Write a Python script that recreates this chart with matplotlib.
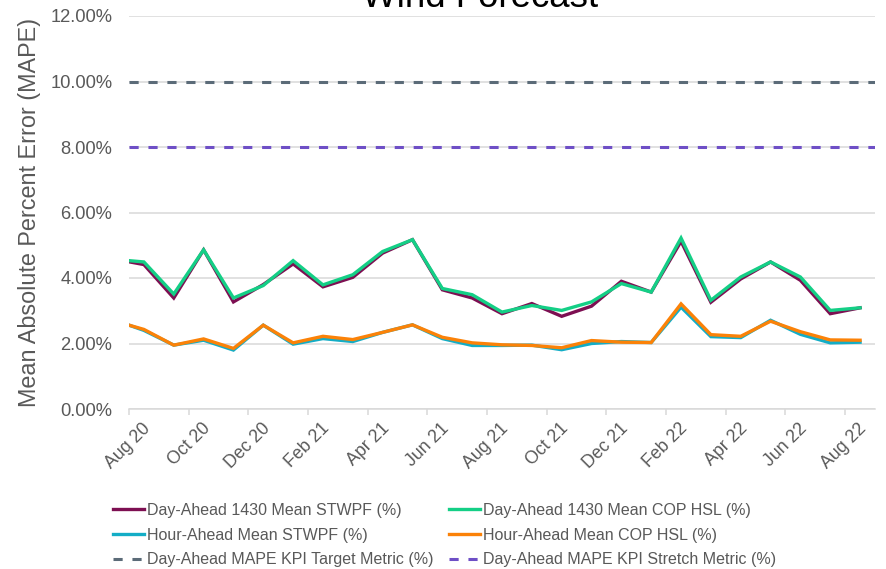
import matplotlib
matplotlib.use("Agg")
import matplotlib.pyplot as plt
import numpy as np

months = ["Jul 20", "Aug 20", "Sep 20", "Oct 20", "Nov 20", "Dec 20", "Jan 21", "Feb 21",
          "Mar 21", "Apr 21", "May 21", "Jun 21", "Jul 21", "Aug 21", "Sep 21", "Oct 21",
          "Nov 21", "Dec 21", "Jan 22", "Feb 22", "Mar 22", "Apr 22", "May 22", "Jun 22",
          "Jul 22", "Aug 22"]

da_stwpf = [4.58, 4.41, 3.39, 4.86, 3.27, 3.80, 4.43, 3.73, 4.02, 4.76, 5.17, 3.64, 3.39,
            2.91, 3.22, 2.83, 3.14, 3.90, 3.57, 5.12, 3.26, 3.97, 4.49, 3.93, 2.91, 3.09]
da_cop = [4.57, 4.49, 3.51, 4.86, 3.39, 3.77, 4.53, 3.79, 4.10, 4.81, 5.17, 3.68, 3.49,
          2.96, 3.16, 3.01, 3.27, 3.83, 3.57, 5.22, 3.32, 4.03, 4.49, 4.03, 3.01, 3.09]
ha_stwpf = [2.72, 2.40, 1.95, 2.10, 1.80, 2.56, 1.98, 2.15, 2.06, 2.34, 2.57, 2.15, 1.94,
            1.94, 1.95, 1.81, 2.00, 2.06, 2.03, 3.11, 2.21, 2.18, 2.71, 2.28, 2.02, 2.04]
ha_cop = [2.69, 2.43, 1.95, 2.14, 1.85, 2.56, 2.02, 2.22, 2.12, 2.34, 2.57, 2.19, 2.02,
          1.96, 1.94, 1.87, 2.09, 2.04, 2.03, 3.21, 2.27, 2.22, 2.68, 2.36, 2.11, 2.10]
target = 10.0
stretch = 8.0

labels_shown = months[1::2]

W, H = 887, 569
fig = plt.figure(figsize=(W / 100, H / 100), dpi=100)
L, R, T, B = 129, 875, 16, 409
ax = fig.add_axes([L / W, 1 - B / H, (R - L) / W, (B - T) / H])

x = np.arange(len(months)) - 1  # Aug 20 -> 0
font = ["Liberation Sans", "DejaVu Sans"]
gray = "#595959"
gridc = "#d9d9d9"

c_dastw = "#7d0f52"
c_dacop = "#14cf86"
c_hastw = "#13adc6"
c_hacop = "#fb8208"
c_target = "#5b6b78"
c_stretch = "#6e4fc6"

lw = 2.4
l_t = ax.axhline(target, color=c_target, lw=2.2, dashes=(3, 3.2), zorder=2)
l_s = ax.axhline(stretch, color=c_stretch, lw=2.2, dashes=(3, 3.2), zorder=2)
l1, = ax.plot(x, da_stwpf, color=c_dastw, lw=lw, zorder=3, solid_joinstyle="miter")
l2, = ax.plot(x, da_cop, color=c_dacop, lw=lw, zorder=4, solid_joinstyle="miter")
l3, = ax.plot(x, ha_stwpf, color=c_hastw, lw=lw, zorder=3, solid_joinstyle="miter")
l4, = ax.plot(x, ha_cop, color=c_hacop, lw=lw, zorder=4, solid_joinstyle="miter")

ax.set_xlim(-0.5, len(months) - 1.5)
ax.set_ylim(0, 12)
ax.set_yticks(np.arange(0, 12.01, 2))
ax.set_yticklabels([f"{v:.2f}%" for v in np.arange(0, 12.01, 2)], fontfamily=font,
                   fontsize=13.2, color=gray)
ax.yaxis.grid(True, color=gridc, lw=1.1, zorder=1)
ax.set_axisbelow(True)
ax.tick_params(axis="y", length=0, pad=12)

ax.set_xticks(np.arange(0, len(months) - 1, 2))
ax.set_xticklabels(labels_shown, rotation=45, ha="right", va="top", rotation_mode="anchor",
                   fontfamily=font, fontsize=12.8, color=gray)
ax.tick_params(axis="x", which="major", length=0, pad=8)
ax.set_xticks(np.arange(-0.5, len(months) - 1.5, 2), minor=True)
ax.tick_params(axis="x", which="minor", length=4, color=gridc, width=1.1)
for lab in ax.get_xticklabels():
    lab.set_transform(lab.get_transform() + matplotlib.transforms.ScaledTranslation(-2 / 100, 0, fig.dpi_scale_trans))

for s in ["left", "right", "top"]:
    ax.spines[s].set_visible(False)
ax.spines["bottom"].set_color(gridc)
ax.spines["bottom"].set_linewidth(1.1)

ax.set_ylabel("Mean Absolute Percent Error (MAPE)", fontfamily=font, fontsize=16.8,
              color=gray)
ax.yaxis.set_label_coords((41 - L) / (R - L), (B - 212) / (B - T))

fig.text(480 / W, 1 - 7 / H, "Wind Forecast", ha="center", va="baseline",
         fontfamily=font, fontsize=26.4, color="black")

handles = [l1, l3, l_t, l2, l4, l_s]
names = ["Day-Ahead 1430 Mean STWPF (%)", "Hour-Ahead Mean STWPF (%)",
         "Day-Ahead MAPE KPI Target Metric (%)", "Day-Ahead 1430 Mean COP HSL (%)",
         "Hour-Ahead Mean COP HSL (%)", "Day-Ahead MAPE KPI Stretch Metric (%)"]
leg = fig.legend(handles, names, ncol=2, loc="upper left",
                 bbox_to_anchor=(113 / W, 1 - 503 / H), frameon=False,
                 prop={"family": font, "size": 11.5}, labelcolor=gray,
                 handlelength=1.95, handletextpad=0.2, columnspacing=0.95,
                 labelspacing=0.6, borderaxespad=0, borderpad=0)

fig.savefig("out.png", dpi=100)
